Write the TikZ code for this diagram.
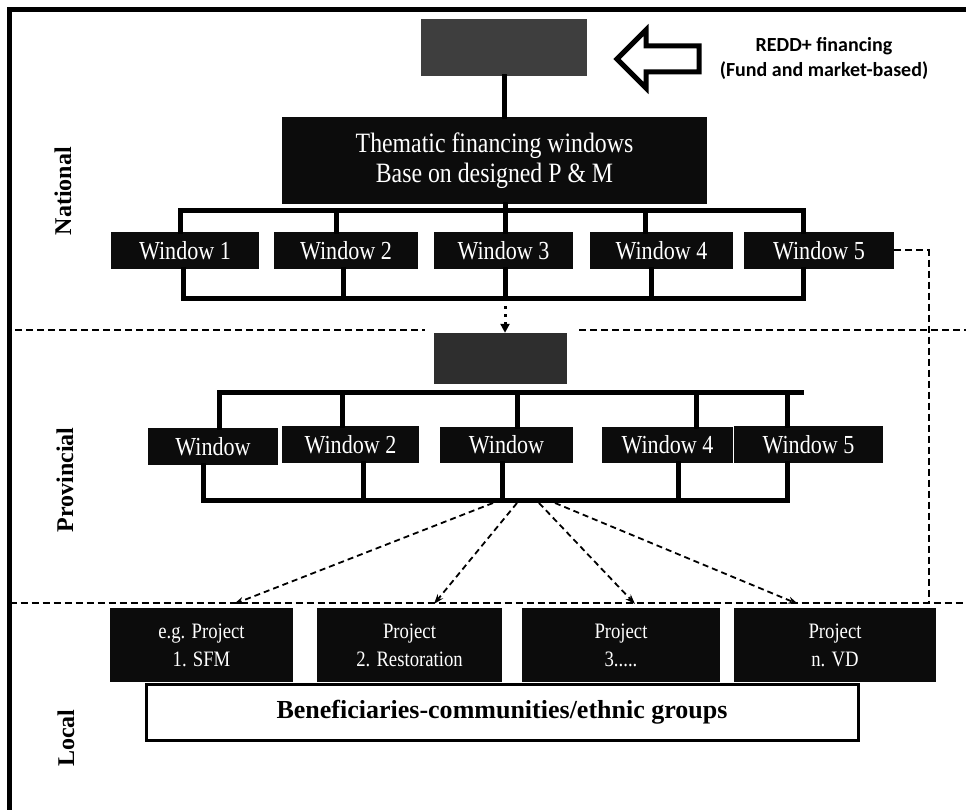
\documentclass[tikz,border=0pt]{standalone}
\usepackage{fontspec}
\setmainfont{Liberation Serif}
\newfontfamily\boxfont[FakeStretch=0.85]{Liberation Serif}
\newfontfamily\notefont{Carlito}
\usetikzlibrary{arrows.meta,calc}

\definecolor{boxblack}{RGB}{12,12,12}
\definecolor{topgrey}{RGB}{62,62,62}
\definecolor{provgrey}{RGB}{46,46,46}

% box from its corners: name, style, x1, y1, x2, y2, text
\newcommand\cornerbox[7]{%
  \pgfmathsetmacro\bw{#5-#3}\pgfmathsetmacro\bh{#6-#4}%
  \node[#2, minimum width=\bw pt, minimum height=\bh pt] (#1) at ({(#3+#5)/2},{(#4+#6)/2}) {#7};}

\begin{document}
\begin{tikzpicture}[x=1pt,y=-1pt,
  darkbox/.style={draw=none, fill=boxblack, text=white, inner sep=0pt, align=center,
    font=\boxfont\fontsize{26}{30}\selectfont},
  projbox/.style={darkbox, font=\boxfont\fontsize{22}{28}\selectfont},
  greybox/.style={draw=none, inner sep=0pt},
  whitebox/.style={draw=black, line width=3pt, fill=white, inner sep=0pt,
    font=\bfseries\fontsize{26}{30}\selectfont},
  bus/.style={line width=5pt, line cap=rect},
  frameline/.style={line width=5pt},
  levelline/.style={line width=2pt, dash pattern=on 7pt off 4pt},
  fanarrow/.style={line width=1.8pt, dash pattern=on 6pt off 4pt,
    -{Stealth[length=10pt,width=7pt]}},
  dotarrow/.style={line width=3pt, dash pattern=on 3pt off 5pt,
    -{Triangle[length=9pt,width=9pt]}},
  levellabel/.style={rotate=90, font=\bfseries\fontsize{24}{24}\selectfont},
  notetext/.style={align=center, font=\notefont\bfseries\fontsize{20}{25}\selectfont}
]
\useasboundingbox (0,0) rectangle (966,810);

% outer frame (top and left edges)
\draw[frameline] (9.5,810) -- (9.5,9.5) -- (966,9.5);

% ---------- National level ----------
\cornerbox{topbox}{greybox, fill=topgrey}{421}{19}{587}{76}{}
\draw[line width=5pt, fill=white, line join=miter]
  (617,59) -- (646,30) -- (646,46) -- (699,46) -- (699,72) -- (646,72) -- (646,88) -- cycle;
\node[notetext] (redd) at (824,58) {REDD+ financing\\(Fund and market-based)};

\cornerbox{them}{darkbox, font=\boxfont\fontsize{28}{30}\selectfont}{282}{117}{707}{204}%
  {Thematic financing windows\\Base on designed P \& M}
\draw[bus] (topbox.south) -- (topbox.south |- them.north);

\cornerbox{w1}{darkbox}{111}{232}{259}{269}{Window 1}
\cornerbox{w2}{darkbox}{274}{232}{418}{269}{Window 2}
\cornerbox{w3}{darkbox}{434}{232}{573}{269}{Window 3}
\cornerbox{w4}{darkbox}{590}{232}{733}{269}{Window 4}
\cornerbox{w5}{darkbox}{744}{232}{894}{269}{Window 5}

% upper distribution bus
\coordinate (ua) at (180,211); \coordinate (ub) at (336,211);
\coordinate (uc) at (505,211); \coordinate (ud) at (645,211);
\coordinate (ue) at (803,211);
\draw[bus] (ua |- w1.north) -- (ua) -- (ue) -- (ue |- w5.north);
\draw[bus] (ub) -- (ub |- w2.north);
\draw[bus] (uc) -- (uc |- w3.north);
\draw[bus] (ud) -- (ud |- w4.north);
\draw[bus] (uc |- them.south) -- (uc);

% lower collecting bus
\coordinate (la) at (183,298); \coordinate (lb) at (343,298);
\coordinate (lc) at (505,298); \coordinate (ld) at (651,298);
\coordinate (le) at (803,298);
\draw[bus] (la |- w1.south) -- (la) -- (le) -- (le |- w5.south);
\draw[bus] (lb |- w2.south) -- (lb);
\draw[bus] (lc |- w3.south) -- (lc);
\draw[bus] (ld |- w4.south) -- (ld);

% ---------- Provincial level ----------
\draw[levelline] (15,330) -- (425,330);
\draw[levelline] (579,330) -- (966,330);

\cornerbox{provbox}{greybox, fill=provgrey}{434}{333}{567}{384}{}
\draw[dotarrow] (lc) -- (lc |- provbox.north);

\cornerbox{pa}{darkbox}{148}{428}{278}{465}{Window}
\cornerbox{pb}{darkbox}{282}{426}{419}{463}{Window 2}
\cornerbox{pc}{darkbox}{440}{427}{573}{463}{Window}
\cornerbox{pd}{darkbox}{602}{427}{733}{463}{Window 4}
\cornerbox{pe}{darkbox}{734}{426}{883}{463}{Window 5}

\coordinate (qa) at (219,392); \coordinate (qb) at (342,392);
\coordinate (qc) at (517,392); \coordinate (qd) at (696,392);
\coordinate (qe) at (787,392); \coordinate (qend) at (801,392);
\draw[bus] (qa |- pa.north) -- (qa) -- (qend);
\draw[bus] (qb) -- (qb |- pb.north);
\draw[bus] (qc) -- (qc |- pc.north);
\draw[bus] (qd) -- (qd |- pd.north);
\draw[bus] (qe) -- (qe |- pe.north);

\coordinate (ra) at (203,500); \coordinate (rb) at (363,500);
\coordinate (rc) at (502,500); \coordinate (rd) at (678,500);
\coordinate (re) at (787,500);
\draw[bus] (ra |- pa.south) -- (ra) -- (re) -- (re |- pe.south);
\draw[bus] (rb |- pb.south) -- (rb);
\draw[bus] (rc |- pc.south) -- (rc);
\draw[bus] (rd |- pd.south) -- (rd);

% link from national window 5 down to the local level
\draw[levelline] (w5.east) -- (929,0 |- w5.east) -- (929,603);

% ---------- Local level ----------
\draw[levelline] (9.5,603) -- (966,603);

\cornerbox{beneficiaries}{whitebox}{146}{684}{858}{740}{Beneficiaries-communities/ethnic groups}
\cornerbox{p1}{projbox}{110}{608}{293}{682}{e.g. Project\\1. SFM}
\cornerbox{p2}{projbox}{317}{608}{502}{682}{Project\\2. Restoration}
\cornerbox{p3}{projbox}{522}{608}{720}{682}{Project\\3.....}
\cornerbox{p4}{projbox}{734}{608}{936}{682}{Project\\n. VD}

\coordinate (fa) at (493,503); \coordinate (fb) at (517,503);
\coordinate (fc) at (539,503); \coordinate (fd) at (555,503);
\coordinate (ta) at (234,604); \coordinate (tb) at (434,604);
\coordinate (tc) at (635,604); \coordinate (td) at (798,604);
\draw[fanarrow] (fa) -- (ta);
\draw[fanarrow] (fb) -- (tb);
\draw[fanarrow] (fc) -- (tc);
\draw[fanarrow] (fd) -- (td);

% level labels
\node[levellabel] (national) at (63,191) {National};
\node[levellabel] (provincial) at (65,480) {Provincial};
\node[levellabel] (local) at (66,738) {Local};
\end{tikzpicture}
\end{document}
